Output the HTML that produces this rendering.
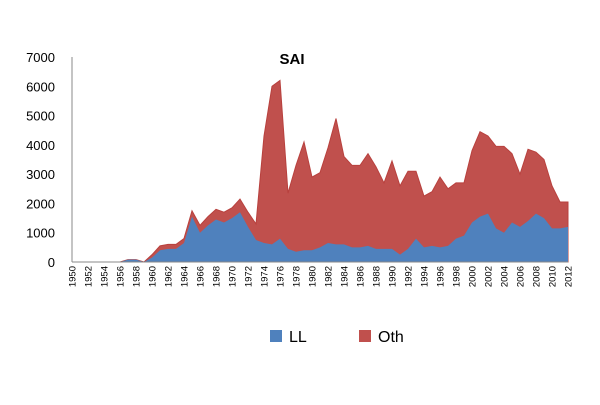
<!DOCTYPE html>
<html><head><meta charset="utf-8"><style>
body{margin:0;background:#fff;font-family:"Liberation Sans",Arial,sans-serif}
svg text{font-family:"Liberation Sans",Arial,sans-serif}
</style></head><body>
<svg id="c" width="600" height="400">
<text x="292" y="64" text-anchor="middle" font-size="15" font-weight="bold">SAI</text>
<g id="plot"></g>
<g>
<rect x="270" y="330" width="12" height="12" fill="#4f81bd"/>
<text x="289" y="342" font-size="16">LL</text>
<rect x="359" y="330" width="12" height="12" fill="#c0504d"/>
<text x="378" y="342" font-size="16">Oth</text>
</g>
</svg>
<script>
const years=[];for(let y=1950;y<=2012;y++)years.push(y);
const llValues=[0,0,0,0,0,0,0,80,80,0,150,400,450,450,650,1550,1000,1250,1450,1350,1500,1700,1200,750,650,600,800,450,350,400,400,500,650,600,600,500,500,550,450,450,450,250,450,800,500,550,500,550,800,900,1350,1550,1650,1150,1000,1350,1200,1400,1650,1500,1150,1150,1200];
const totalValues=[0,0,0,0,0,0,0,80,80,0,250,550,600,600,800,1750,1250,1550,1800,1700,1850,2150,1700,1300,4300,6000,6200,2350,3300,4100,2900,3050,3900,4900,3600,3300,3300,3700,3250,2700,3450,2600,3100,3100,2250,2400,2900,2500,2700,2700,3800,4450,4300,3950,3950,3700,3000,3850,3750,3500,2600,2050,2050];
const yTicks=[0,1000,2000,3000,4000,5000,6000,7000];
const x0=72,x1=568,yb=262,yt=57;
const X=i=>x0+(x1-x0)*i/(years.length-1);
const Y=v=>yb-(yb-yt)*v/7000;
const NS="http://www.w3.org/2000/svg";
const g=document.getElementById('plot');
function mk(t,a){const e=document.createElementNS(NS,t);for(const k in a)e.setAttribute(k,a[k]);g.appendChild(e);return e;}
yTicks.forEach(v=>{const t=mk('text',{x:55,y:Y(v)+5,'text-anchor':'end','font-size':'13'});t.textContent=v;

});
function area(vals){let d='M'+X(0)+','+yb;vals.forEach((v,i)=>d+='L'+X(i)+','+Y(v));d+='L'+X(vals.length-1)+','+yb+'Z';return d;}
const a1=mk('path',{d:area(totalValues),fill:'#c0504d',stroke:'#b8413e','stroke-width':'1'});


const a2=mk('path',{d:area(llValues),fill:'#4f81bd'});


const ax=mk('line',{x1:x0,y1:yb,x2:x1,y2:yb,stroke:'#888','stroke-width':'1'});


const ay=mk('line',{x1:x0,y1:yb,x2:x0,y2:yt,stroke:'#888','stroke-width':'1'});


years.forEach((yr,i)=>{if(yr%2)return;const x=X(i)+3.5;const t=mk('text',{x:x,y:266,'font-size':'9.5','text-anchor':'end',transform:`rotate(-90 ${x} 266)`});t.textContent=yr;

});
</script>
</body></html>
